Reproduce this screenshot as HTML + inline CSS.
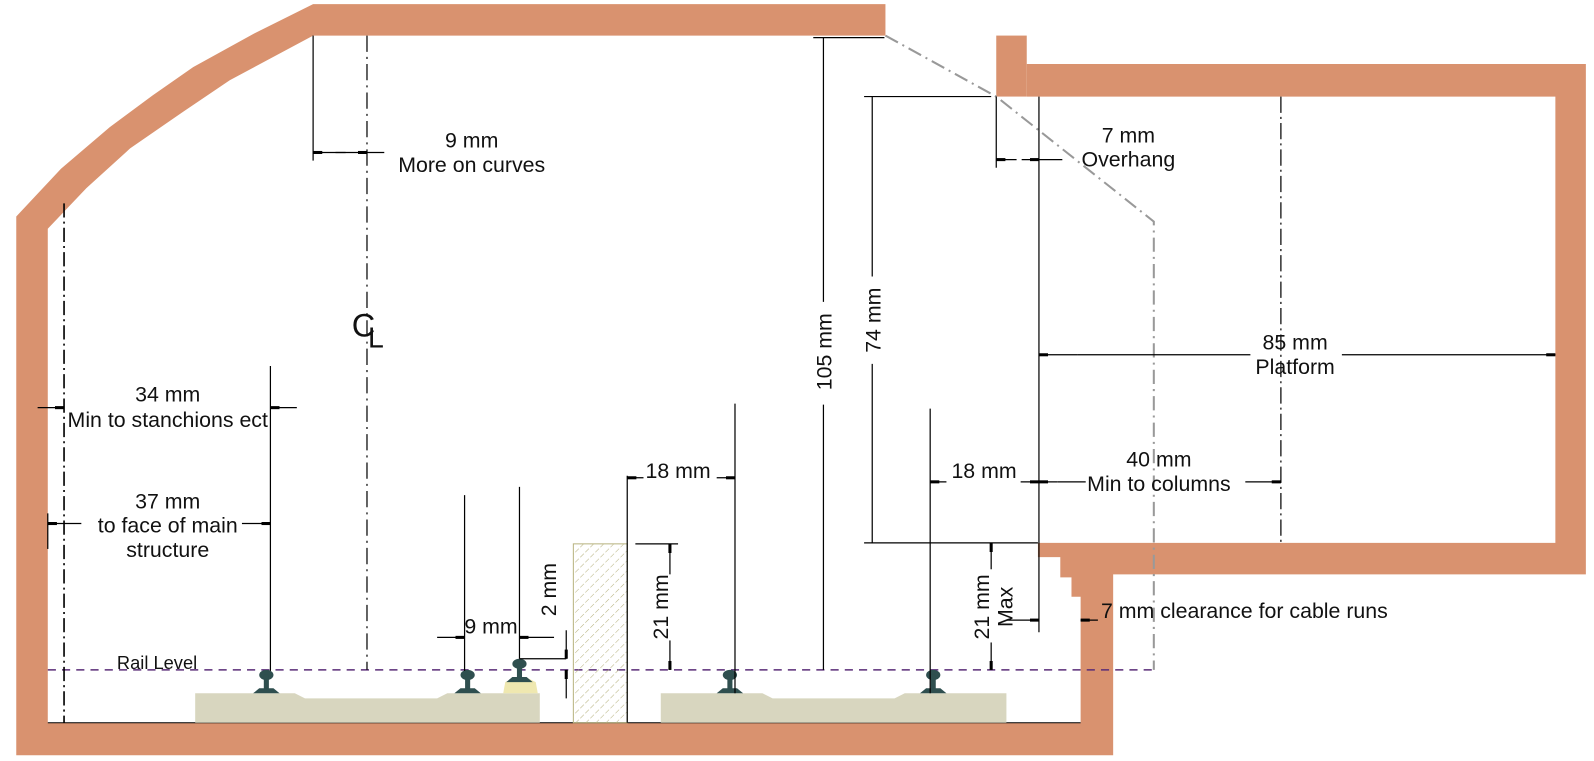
<!DOCTYPE html>
<html><head><meta charset="utf-8"><style>html,body{margin:0;padding:0;background:#fff}svg{display:block}text{font-family:"Liberation Sans",sans-serif;fill:#111}</style></head>
<body>
<svg width="1594" height="761" viewBox="0 0 1568 748.6" preserveAspectRatio="none" xmlns="http://www.w3.org/2000/svg" style="font-size:21px">
<defs>
<marker id="a" markerWidth="10" markerHeight="6" refX="9" refY="3" orient="auto" markerUnits="userSpaceOnUse"><path d="M0,1.5 L9,1.5 L9,4.5 L0,4.5Z" fill="#000"/></marker>
<pattern id="h" width="7" height="7" patternUnits="userSpaceOnUse" patternTransform="rotate(45)"><line x1="0" y1="0" x2="0" y2="7" stroke="#b5b07c" stroke-width="1" stroke-dasharray="5 2"/></pattern>
</defs>
<g fill="#D9926F">
<path d="M16,213 L60,166 L108,125 L150,94 L190,66 L250,33 L308,4 L871,4 L871,35 L308,35 L226,79 L180,110 L128,146 L85,185 L47,225 L47,711 L1063,711 L1063,587 L1054,587 L1054,568 L1043,568 L1043,548 L1021,548 L1021,534 L1530,534 L1530,95 L1010,95 L1010,63 L1560,63 L1560,565 L1095,565 L1095,743 L16,743 Z"/>
<rect x="980" y="35" width="30" height="60"/>
</g>
<line x1="47" y1="711" x2="1063" y2="711" stroke="#000" stroke-width="1"/>
<path d="M871,35 L980,95 L1135,218 L1135,659" fill="none" stroke="#999" stroke-width="2" stroke-dasharray="14 5 2 5"/>
<line x1="47" y1="659" x2="1135" y2="659" stroke="#5a2d78" stroke-width="1.5" stroke-dasharray="8 6"/>
<text x="115" y="658" style="font-size:18px">Rail Level</text>
<g fill="#d8d6bf">
<path d="M192,682 L290,682 L300,687 L430,687 L440,682 L531,682 L531,711 L192,711Z"/>
<path d="M650,682 L750,682 L760,687 L880,687 L890,682 L990,682 L990,711 L650,711Z"/>
</g>
<rect x="564" y="535" width="53" height="176" fill="url(#h)" stroke="#b8b480"/>
<path d="M495,682 L497,671 L507,666 L517,666 L527,671 L529,682Z" fill="#efe8b0"/>
<g fill="#2f4f4f">
<g id="r"><ellipse cx="262" cy="664" rx="7" ry="5"/><rect x="259.5" y="664" width="5" height="14"/><path d="M249,682 L255,677 L269,677 L275,682Z"/></g>
<use href="#r" x="198"/><use href="#r" x="456"/><use href="#r" x="656"/><use href="#r" x="249" y="-11"/>
</g>
<g stroke="#000" stroke-width="1.2" fill="none">
<line x1="63" y1="200" x2="63" y2="711" stroke-dasharray="14 4 2 4" stroke-width="1.6"/>
<line x1="361" y1="35" x2="361" y2="659" stroke-dasharray="16 5 2 5"/>
<line x1="308" y1="35" x2="308" y2="158"/>
<line x1="340" y1="150" x2="308" y2="150" marker-end="url(#a)"/>
<line x1="330" y1="150" x2="361" y2="150" marker-end="url(#a)"/>
<line x1="361" y1="150" x2="378" y2="150"/>
<line x1="266" y1="360" x2="266" y2="660"/>
<line x1="37" y1="401" x2="63" y2="401" marker-end="url(#a)"/>
<line x1="292" y1="401" x2="266" y2="401" marker-end="url(#a)"/>
<line x1="47" y1="505" x2="47" y2="540"/>
<line x1="80" y1="515" x2="47" y2="515" marker-end="url(#a)"/>
<line x1="238" y1="515" x2="266" y2="515" marker-end="url(#a)"/>
<line x1="457" y1="487" x2="457" y2="660"/>
<line x1="511" y1="479" x2="511" y2="648"/>
<line x1="430" y1="627" x2="457" y2="627" marker-end="url(#a)"/>
<line x1="545" y1="627" x2="511" y2="627" marker-end="url(#a)"/>
<line x1="511" y1="648" x2="557" y2="648"/>
<line x1="557" y1="620" x2="557" y2="648" marker-end="url(#a)"/>
<line x1="557" y1="687" x2="557" y2="659" marker-end="url(#a)"/>
<line x1="617" y1="468" x2="617" y2="711"/>
<line x1="625" y1="535" x2="667" y2="535"/>
<line x1="659" y1="565" x2="659" y2="535" marker-end="url(#a)"/>
<line x1="659" y1="630" x2="659" y2="659" marker-end="url(#a)"/>
<line x1="723" y1="397" x2="723" y2="682"/>
<line x1="633" y1="470" x2="617" y2="470" marker-end="url(#a)"/>
<line x1="705" y1="470" x2="723" y2="470" marker-end="url(#a)"/>
<line x1="800" y1="37" x2="870" y2="37"/>
<line x1="810" y1="37" x2="810" y2="297"/><line x1="810" y1="398" x2="810" y2="659"/>
<line x1="850" y1="95" x2="975" y2="95"/>
<line x1="850" y1="534" x2="1021" y2="534"/>
<line x1="858" y1="95" x2="858" y2="272"/><line x1="858" y1="358" x2="858" y2="534"/>
<line x1="915" y1="402" x2="915" y2="682"/>
<line x1="931" y1="474" x2="915" y2="474" marker-end="url(#a)"/>
<line x1="1004" y1="474" x2="1022" y2="474" marker-end="url(#a)"/>
<line x1="975" y1="560" x2="975" y2="534" marker-end="url(#a)"/>
<line x1="975" y1="632" x2="975" y2="659" marker-end="url(#a)"/>
<line x1="1022" y1="95" x2="1022" y2="622"/>
<line x1="990" y1="610" x2="1022" y2="610" marker-end="url(#a)"/>
<line x1="1080" y1="610" x2="1063" y2="610" marker-end="url(#a)"/>
<line x1="980" y1="95" x2="980" y2="165"/>
<line x1="1000" y1="157" x2="980" y2="157" marker-end="url(#a)"/>
<line x1="1005" y1="157" x2="1022" y2="157" marker-end="url(#a)"/>
<line x1="1022" y1="157" x2="1045" y2="157"/>
<line x1="1060" y1="349" x2="1022" y2="349" marker-end="url(#a)"/>
<line x1="1060" y1="349" x2="1230" y2="349"/>
<line x1="1320" y1="349" x2="1530" y2="349" marker-end="url(#a)"/>
<line x1="1260" y1="95" x2="1260" y2="534" stroke-dasharray="16 4 2 4"/>
<line x1="1040" y1="474" x2="1022" y2="474" marker-end="url(#a)"/>
<line x1="1040" y1="474" x2="1068" y2="474"/>
<line x1="1225" y1="474" x2="1260" y2="474" marker-end="url(#a)"/>
</g>
<g text-anchor="middle">
<text x="464" y="145">9 mm</text><text x="464" y="169">More on curves</text>
<text x="165" y="395">34 mm</text><text x="165" y="420">Min to stanchions ect</text>
<text x="165" y="500">37 mm</text><text x="165" y="524">to face of main</text><text x="165" y="548">structure</text>
<text x="483" y="623">9 mm</text>
<text x="667" y="470">18 mm</text>
<text x="968" y="470">18 mm</text>
<text x="1140" y="459">40 mm</text><text x="1140" y="483">Min to columns</text>
<text x="1274" y="344">85 mm</text><text x="1274" y="368">Platform</text>
<text x="1110" y="140">7 mm</text><text x="1110" y="164">Overhang</text>
<text transform="translate(547,580) rotate(-90)">2 mm</text>
<text transform="translate(657,597) rotate(-90)">21 mm</text>
<text transform="translate(818,346) rotate(-90)">105 mm</text>
<text transform="translate(866,315) rotate(-90)">74 mm</text>
<text transform="translate(973,597) rotate(-90)">21 mm</text>
<text transform="translate(996,597) rotate(-90)">Max</text>
</g>
<text x="1083" y="608">7 mm clearance for cable runs</text>
<text x="346" y="331" style="font-size:32px">C</text><text x="362" y="342" style="font-size:28px">L</text>
</svg>
</body></html>
